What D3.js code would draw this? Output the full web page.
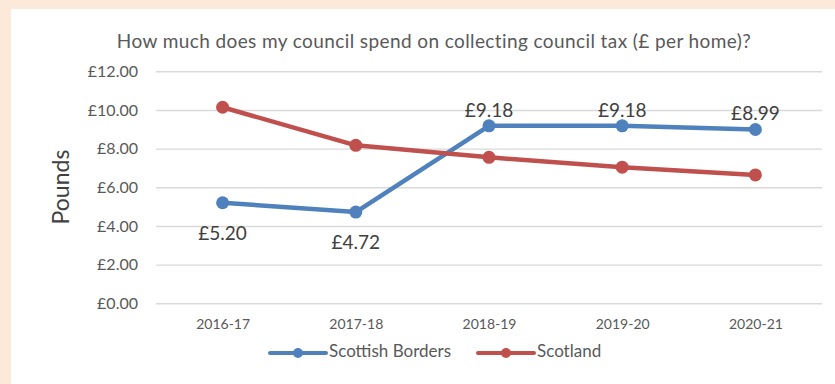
<!DOCTYPE html>
<html>
<head>
<meta charset="utf-8">
<script src="https://cdn.jsdelivr.net/npm/d3@7"></script>
<style>
  html, body { margin: 0; padding: 0; background: #fde9da; }
  svg { display: block; }
  text { font-family: Lato, "Open Sans", sans-serif; }
</style>
</head>
<body>
<svg id="chart" width="835" height="384"></svg>
<script>
// Cost of collecting council tax, £ per home
const years = ["2016-17", "2017-18", "2018-19", "2019-20", "2020-21"];
const bordersValues = [5.20, 4.72, 9.18, 9.18, 8.99];
const scotlandValues = [10.14, 8.17, 7.55, 7.04, 6.64];
const yTicks = [0, 2, 4, 6, 8, 10, 12];
const seriesNames = ["Scottish Borders", "Scotland"];

const W = 835, H = 384;
const svg = d3.select("#chart");

// white panel on the peach page
svg.append("rect").attr("x", 11).attr("y", 9).attr("width", W - 11).attr("height", H - 9)
  .attr("fill", "#ffffff");

const plot = { left: 156, right: 822, top: 71.3, bottom: 303.3 };

const x = d3.scalePoint().domain(years).range([plot.left, plot.right]).padding(0.5);
const y = d3.scaleLinear().domain([0, 12]).range([plot.bottom, plot.top]);

// title
svg.append("text")
  .attr("x", 434).attr("y", 43)
  .attr("text-anchor", "middle").attr("dominant-baseline", "middle")
  .attr("font-size", 19).attr("letter-spacing", 0.4).attr("fill", "#595959")
  .text("How much does my council spend on collecting council tax (£ per home)?");

// y axis: gridlines and £ labels
const yAxis = d3.axisLeft(y)
  .tickValues(yTicks)
  .tickSize(-(plot.right - plot.left))
  .tickPadding(18)
  .tickFormat(d => "£" + d3.format(".2f")(d));

const gy = svg.append("g").attr("transform", `translate(${plot.left},0)`).call(yAxis);
gy.select(".domain").remove();
gy.selectAll(".tick line").attr("stroke", "#d9d9d9").attr("stroke-width", 1.4);
gy.selectAll(".tick text").attr("font-size", 16).attr("fill", "#595959")
  .attr("font-family", "Lato, sans-serif");

// x axis labels
const xAxis = d3.axisBottom(x).tickSize(0).tickPadding(16);
const gx = svg.append("g").attr("transform", `translate(0,${plot.bottom})`).call(xAxis);
gx.select(".domain").remove();
gx.selectAll(".tick text").attr("font-size", 14).attr("fill", "#595959")
  .attr("font-family", "Lato, sans-serif");

// axis title
svg.append("text")
  .attr("transform", "translate(63,187) rotate(-90)")
  .attr("text-anchor", "middle").attr("dominant-baseline", "middle")
  .attr("font-size", 23).attr("fill", "#404040")
  .text("Pounds");

const colors = ["#4f81bd", "#c0504d"];
const series = [bordersValues, scotlandValues];

const line = d3.line().x((d, i) => x(years[i])).y(d => y(d));

series.forEach((vals, s) => {
  const g = svg.append("g");
  g.append("path").datum(vals)
    .attr("d", line)
    .attr("fill", "none")
    .attr("stroke", colors[s])
    .attr("stroke-width", 4.5)
    .attr("stroke-linejoin", "round")
    .attr("stroke-linecap", "round");
  g.selectAll("circle").data(vals).join("circle")
    .attr("cx", (d, i) => x(years[i]))
    .attr("cy", d => y(d))
    .attr("r", 6.5)
    .attr("fill", colors[s]);
});

// value labels for Scottish Borders: below the point when under the Scotland line, above otherwise
svg.append("g").selectAll("text").data(bordersValues).join("text")
  .attr("x", (d, i) => x(years[i]))
  .attr("y", (d, i) => d < scotlandValues[i] ? y(d) + 32 : y(d) - 14)
  .attr("text-anchor", "middle").attr("dominant-baseline", "middle")
  .attr("font-size", 19).attr("fill", "#404040")
  .text(d => "£" + d3.format(".2f")(d));

// legend
const legendItems = [
  { name: seriesNames[0], color: colors[0], x0: 270 },
  { name: seriesNames[1], color: colors[1], x0: 478 }
];
const lg = svg.append("g");
legendItems.forEach(it => {
  const ly = 353;
  lg.append("line")
    .attr("x1", it.x0).attr("x2", it.x0 + 56).attr("y1", ly).attr("y2", ly)
    .attr("stroke", it.color).attr("stroke-width", 4).attr("stroke-linecap", "round");
  lg.append("circle").attr("cx", it.x0 + 28).attr("cy", ly).attr("r", 5).attr("fill", it.color);
  lg.append("text")
    .attr("x", it.x0 + 59).attr("y", ly)
    .attr("dominant-baseline", "middle")
    .attr("font-size", 17).attr("fill", "#595959")
    .text(it.name);
});
</script>
</body>
</html>
